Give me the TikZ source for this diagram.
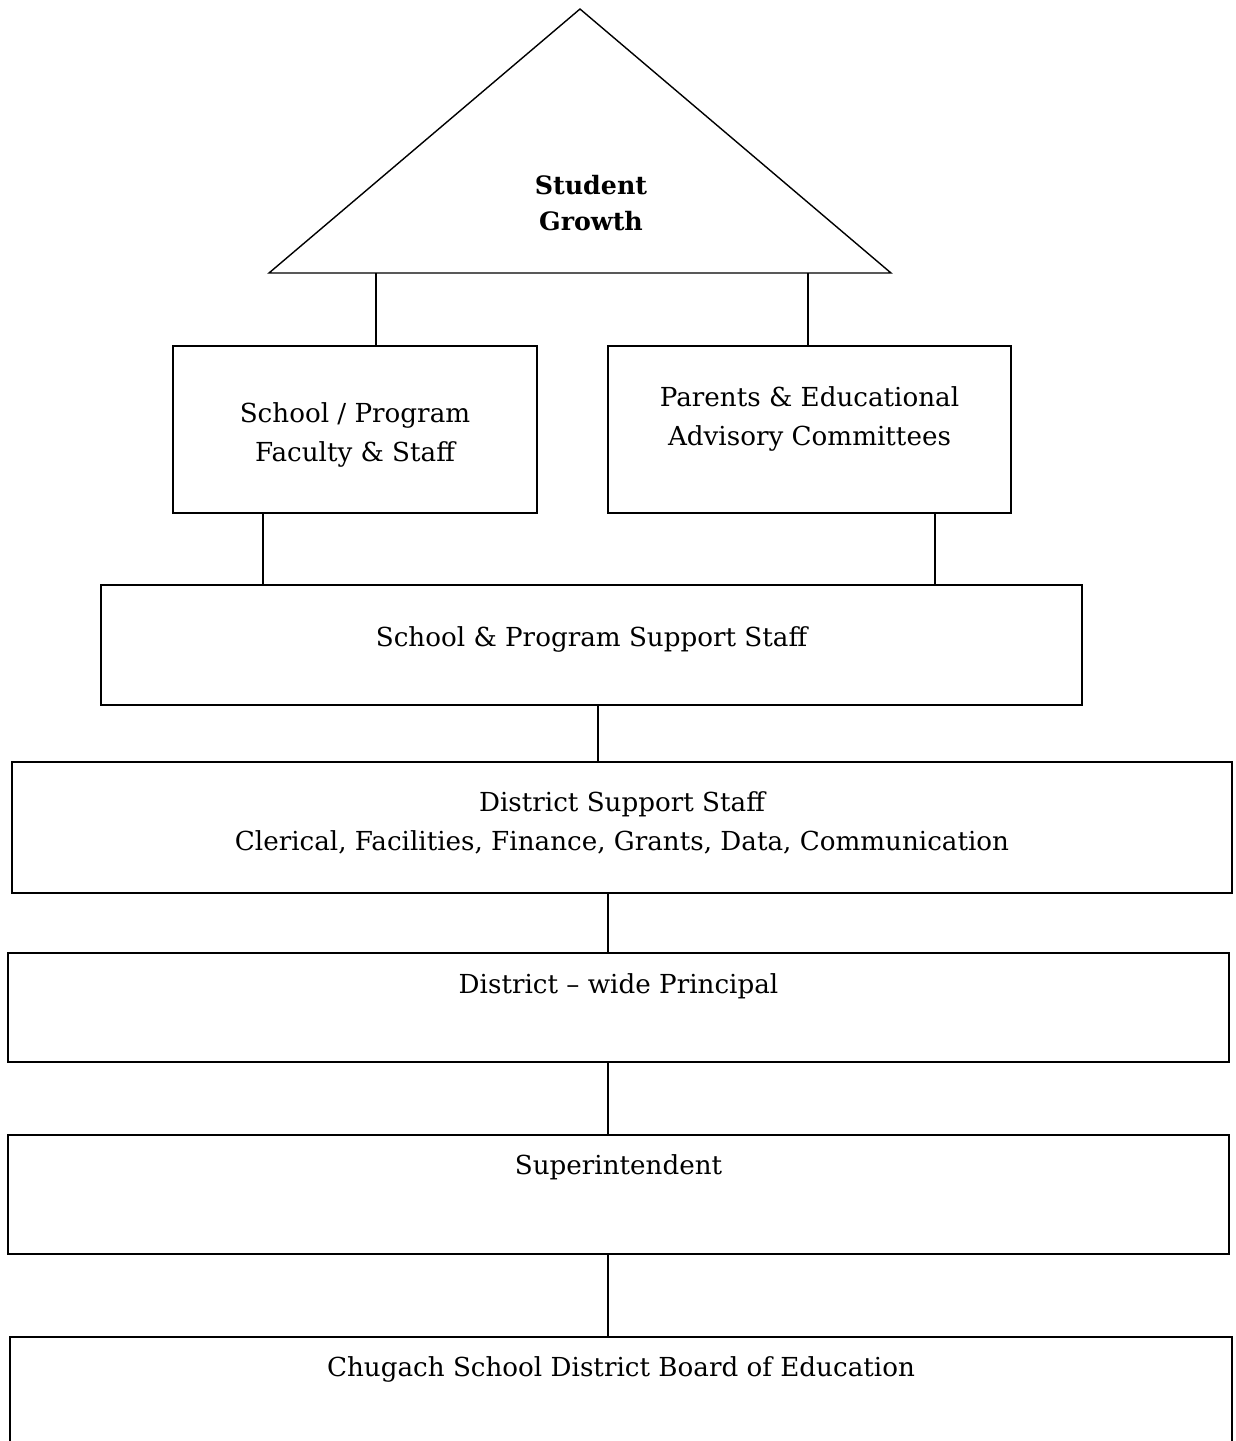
\documentclass[tikz,border=0pt]{standalone}
\usepackage{fontspec}
\setmainfont{DejaVu Serif}
\begin{document}
\begin{tikzpicture}[
    x = 0.02cm, y = -0.02cm,
    line width = 0.8pt,
    box/.style = {draw,
      inner sep = 0pt,
      align = center,
      font = \fontsize{14.9}{22}\selectfont},
    rooftext/.style = {align = center,
      font = \fontsize{14.4}{20.5}\selectfont\bfseries},
    ]

    \clip (0, 0) rectangle (1235, 1441);

    \coordinate (roof_l) at (269, 273);
    \coordinate (roof_t) at (580, 9);
    \coordinate (roof_r) at (891, 273);
    \coordinate (roof_a) at (376, 273);
    \coordinate (roof_b) at (808, 273);

    \draw (roof_l) -- (roof_t) -- (roof_r) -- cycle;
    \node at (591, 203) [rooftext, name = growth] {Student\\Growth};

    \node at (355, 429.5)
    [box, name = faculty, minimum width = 7.28cm,
      text height = 2.3cm, text depth = 1.04cm]
    {School / Program\\Faculty \& Staff};
    \node at (809.5, 429.5)
    [box, name = parents, minimum width = 8.06cm,
      text height = 1.98cm, text depth = 1.36cm]
    {Parents \& Educational\\Advisory Committees};

    \node at (591.5, 645)
    [box, name = school_support, minimum width = 19.62cm,
      text height = 1.22cm, text depth = 1.18cm]
    {School \& Program Support Staff};

    \node at (622, 827.5)
    [box, name = district_staff, minimum width = 24.4cm,
      text height = 1.76cm, text depth = 0.86cm]
    {District Support Staff\\Clerical, Facilities, Finance, Grants, Data, Communication};

    \node at (618.5, 1007.5)
    [box, name = principal, minimum width = 24.42cm,
      text height = 0.8cm, text depth = 1.38cm]
    {District -- wide Principal};

    \node at (618.5, 1194.5)
    [box, name = superintendent, minimum width = 24.42cm,
      text height = 0.78cm, text depth = 1.6cm]
    {Superintendent};

    \node at (621, 1402)
    [box, name = board, minimum width = 24.44cm,
      text height = 0.78cm, text depth = 1.82cm]
    {Chugach School District Board of Education};

    \draw (roof_a) to (roof_a |- faculty.north);
    \draw (roof_b) to (roof_b |- parents.north);

    \draw (faculty.south -| 263, 0) to (school_support.north -| 263, 0);
    \draw (parents.south -| 935, 0) to (school_support.north -| 935, 0);

    \draw (school_support.south -| 598, 0) to (district_staff.north -| 598, 0);
    \draw (district_staff.south -| 608, 0) to (principal.north -| 608, 0);
    \draw (principal.south -| 608, 0) to (superintendent.north -| 608, 0);
    \draw (superintendent.south -| 608, 0) to (board.north -| 608, 0);
  \end{tikzpicture}
\end{document}
